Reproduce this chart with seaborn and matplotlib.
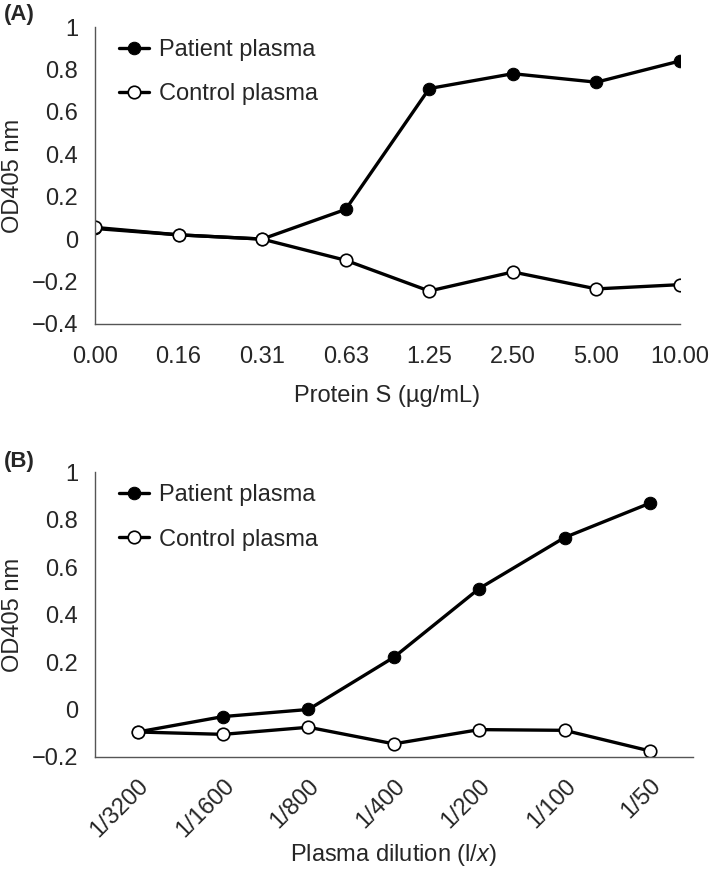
import numpy as np
import pandas as pd
import seaborn as sns
import matplotlib.pyplot as plt
from matplotlib.ticker import FuncFormatter, FixedLocator

# Panel A: OD405 vs protein S concentration
protein_s = ["0.00", "0.16", "0.31", "0.63", "1.25", "2.50", "5.00", "10.00"]
patient_a = [0.05, 0.02, 0.00, 0.14, 0.71, 0.78, 0.74, 0.84]
control_a = [0.055, 0.02, 0.00, -0.10, -0.245, -0.155, -0.235, -0.215]

# Panel B: OD405 vs plasma dilution
dilution = ["1/3200", "1/1600", "1/800", "1/400", "1/200", "1/100", "1/50"]
patient_b = [-0.095, -0.03, 0.00, 0.22, 0.51, 0.725, 0.87]
control_b = [-0.095, -0.105, -0.075, -0.145, -0.085, -0.088, -0.175]

sns.set_theme(style="white")
plt.rcParams["font.family"] = ["Liberation Sans", "DejaVu Sans"]
plt.rcParams["mathtext.fontset"] = "custom"
plt.rcParams["mathtext.rm"] = "Liberation Sans"
plt.rcParams["mathtext.it"] = "Liberation Sans:italic"

fig = plt.figure(figsize=(7.09, 8.73), dpi=100)
ax_a = fig.add_axes([0.134, 0.629, 0.825, 0.340])
ax_b = fig.add_axes([0.134, 0.133, 0.843, 0.326])

spine_col = "#555555"
fs = 17


def fmt(v, pos):
    s = "%g" % round(v, 2)
    return s.replace("-", "\u2212")


def draw(ax, pat, ctl):
    df = pd.DataFrame({"pos": np.arange(len(pat)), "pat": pat, "ctl": ctl})
    sns.lineplot(data=df, x="pos", y="pat", ax=ax, color="black", lw=2.4,
                 marker="o", markersize=9, markerfacecolor="black",
                 markeredgecolor="black", label="Patient plasma")
    sns.lineplot(data=df, x="pos", y="ctl", ax=ax, color="black", lw=2.4,
                 marker="o", markersize=9, markerfacecolor="white",
                 markeredgecolor="black", markeredgewidth=1.2,
                 label="Control plasma")
    for s in ["top", "right"]:
        ax.spines[s].set_visible(False)
    for s in ["left", "bottom"]:
        ax.spines[s].set_color(spine_col)
        ax.spines[s].set_linewidth(1.0)
    ax.yaxis.set_major_formatter(FuncFormatter(fmt))
    ax.tick_params(axis="both", which="major", direction="out", length=8,
                   width=1.0, color=spine_col, labelsize=fs, pad=4)
    ax.set_ylabel("OD405 nm", fontsize=fs, labelpad=6)
    ax.legend(loc="upper left", bbox_to_anchor=(0.02, 1.0), frameon=False,
              fontsize=fs, handlelength=1.3, handletextpad=0.4,
              labelspacing=0.95, borderaxespad=0.1)


# Panel A
draw(ax_a, patient_a, control_a)
ax_a.set_xlim(0, len(protein_s) - 1)
ax_a.set_ylim(-0.4, 1.0)
ax_a.set_yticks(np.arange(-0.4, 1.01, 0.2))
ax_a.set_xticks(np.arange(len(protein_s)))
ax_a.set_xticklabels(protein_s)
ax_a.set_xlabel("Protein S (\u00b5g/mL)", fontsize=fs, labelpad=12)
ax_a.tick_params(axis="x", pad=8)
fig.text(0.006, 0.983, "(A)", fontsize=16, fontweight="bold", va="center")

# Panel B
draw(ax_b, patient_b, control_b)
n = len(dilution)
ax_b.set_xlim(-0.5, n - 0.5)
ax_b.set_ylim(-0.2, 1.0)
ax_b.set_yticks(np.arange(-0.2, 1.01, 0.2))
ax_b.xaxis.set_major_locator(FixedLocator(np.arange(-0.5, n, 1.0)))
ax_b.set_xticklabels([])
ax_b.xaxis.set_minor_locator(FixedLocator(np.arange(n)))
ax_b.set_xticklabels(dilution, minor=True, rotation=45, ha="right",
                     rotation_mode="anchor", fontsize=fs)
ax_b.tick_params(axis="x", which="minor", length=0, pad=13)
ax_b.set_xlabel("Plasma dilution (l/$x$)", fontsize=fs, labelpad=0)
fig.text(0.006, 0.471, "(B)", fontsize=16, fontweight="bold", va="center")

fig.savefig("out.png", dpi=100)
